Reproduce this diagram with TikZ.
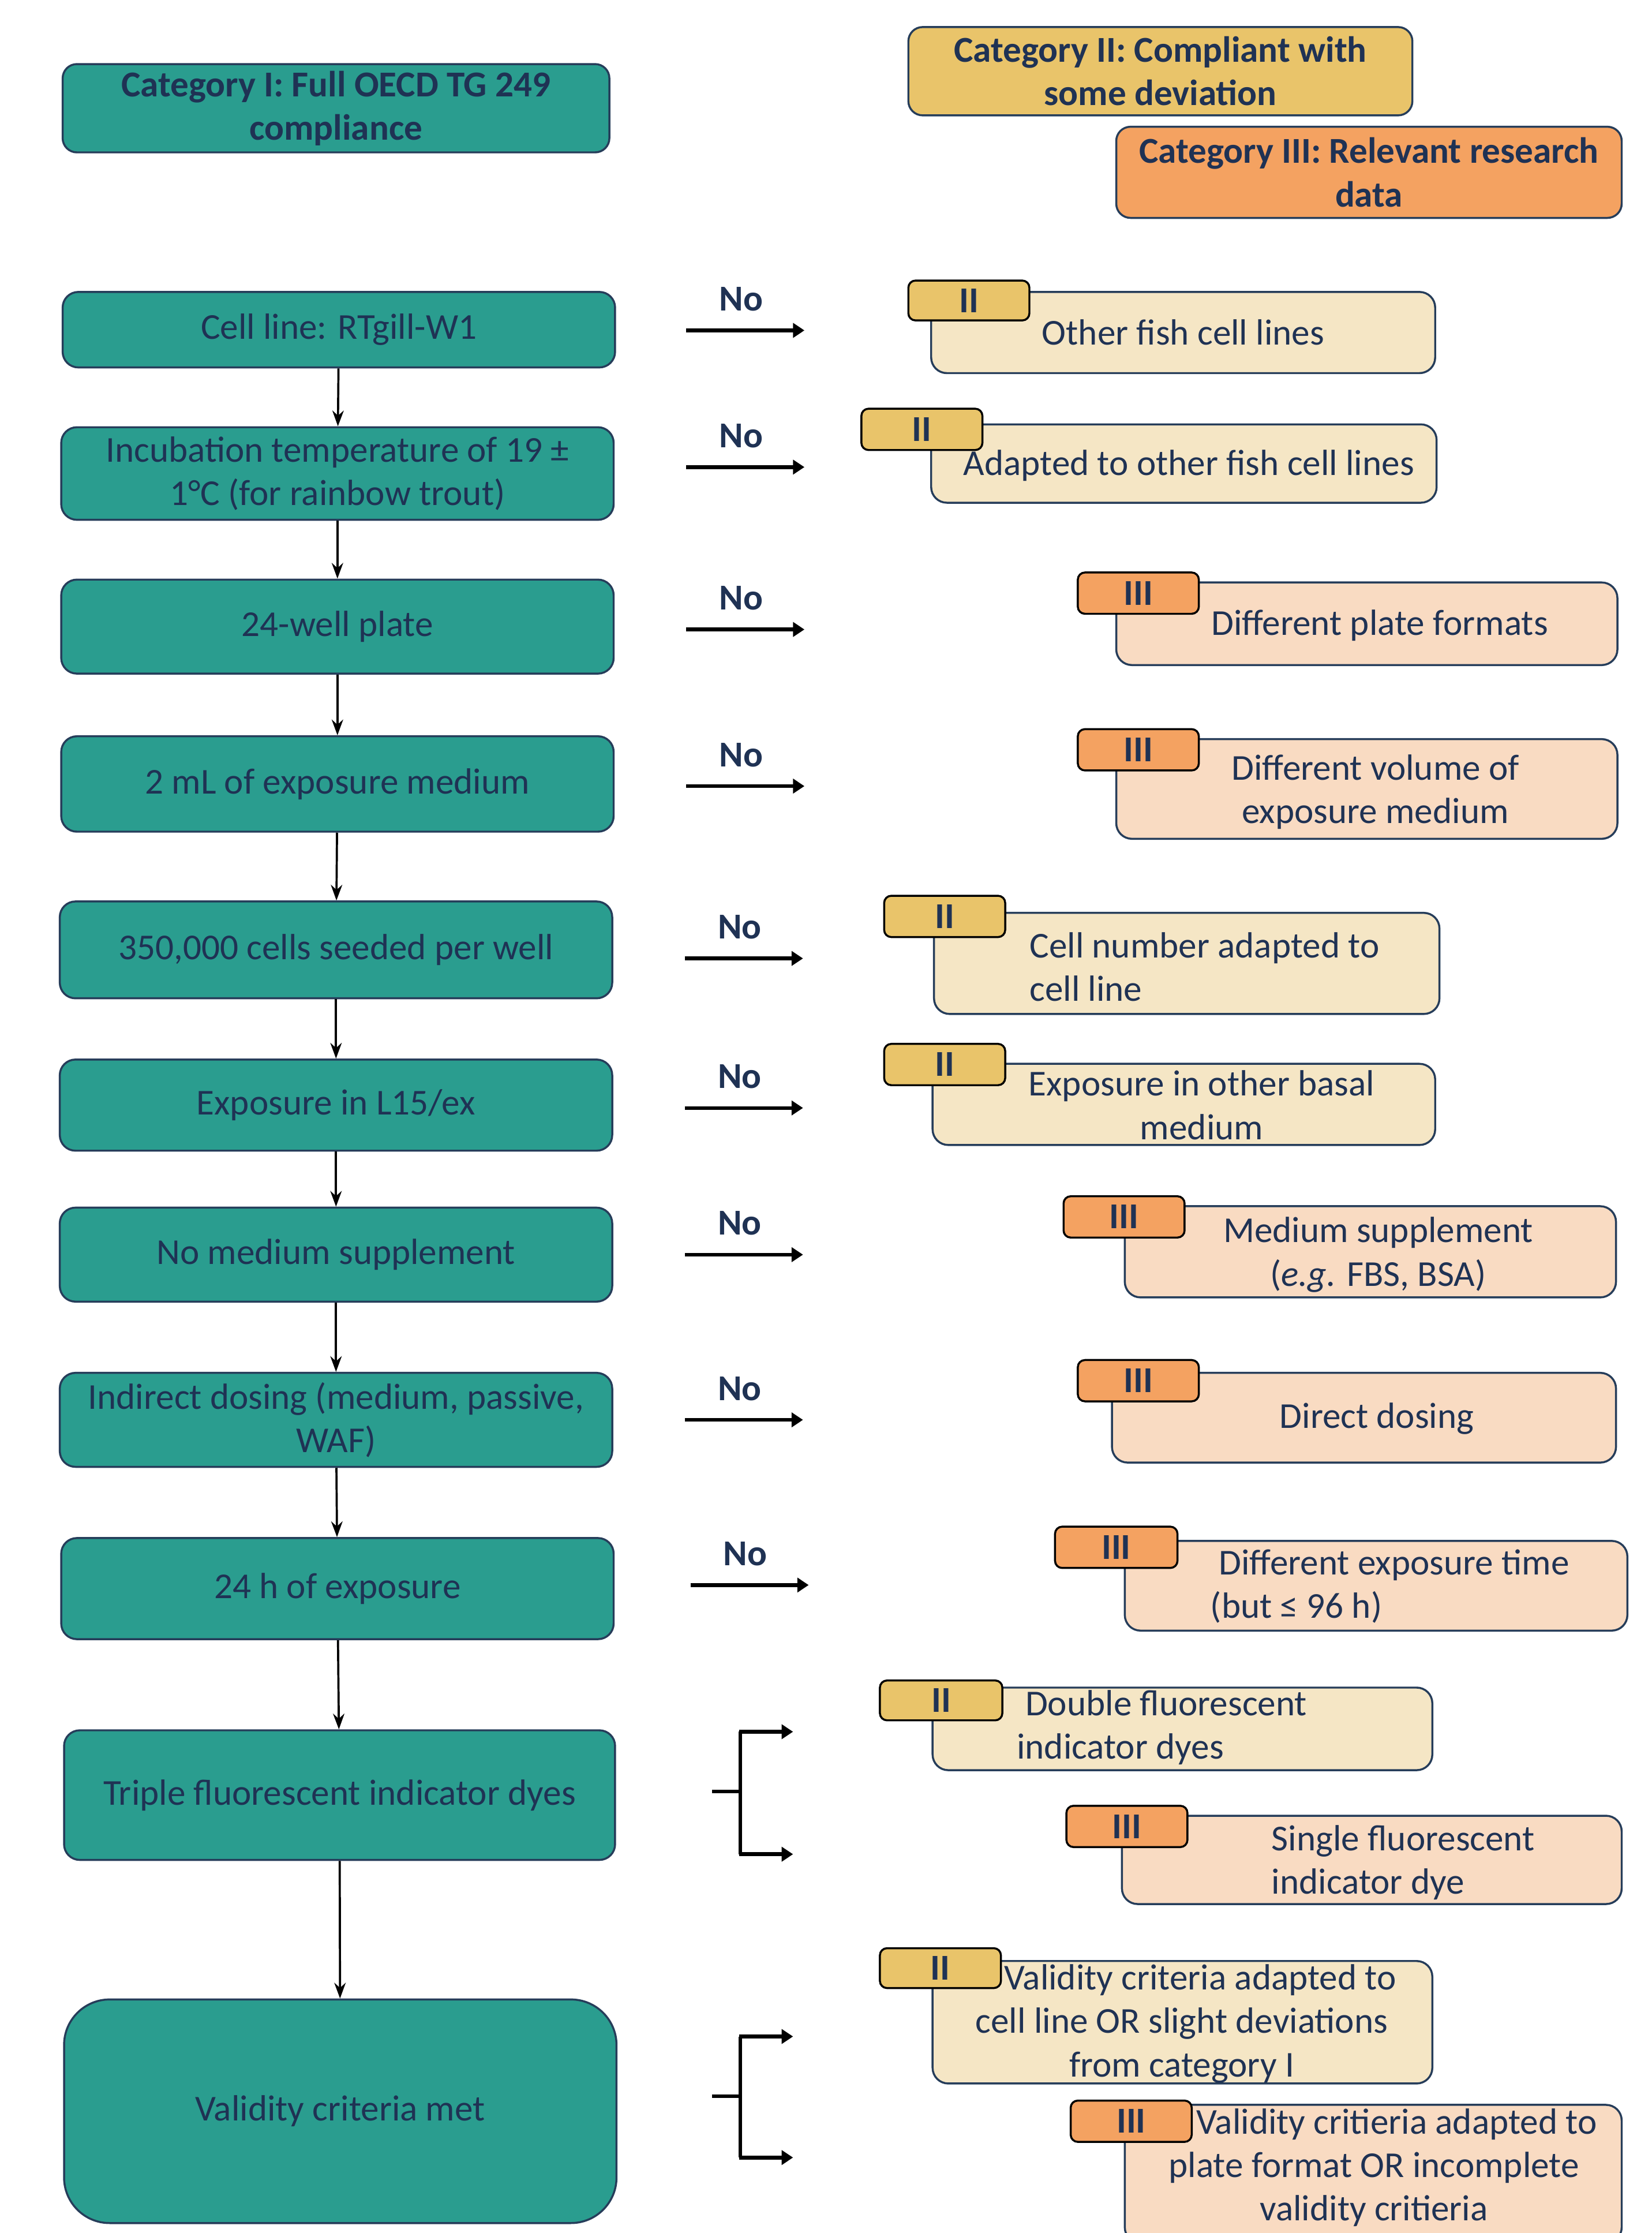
\documentclass[tikz,border=0pt]{standalone}
\usepackage{fontspec}
\setmainfont{Carlito}
\usetikzlibrary{arrows.meta}
\definecolor{tealc}{HTML}{2A9D8F}
\definecolor{yelc}{HTML}{E9C46A}
\definecolor{orac}{HTML}{F4A261}
\definecolor{lyelc}{HTML}{F5E6C5}
\definecolor{lorac}{HTML}{F9DBC2}
\definecolor{navyc}{HTML}{1F3254}
\definecolor{bordc}{HTML}{263D5A}
\newcommand\fs{\fontsize{25.6}{30.5}\selectfont}
\newcommand\mkbox[7]{\node[#6, minimum width={#4-#2}, minimum height={#5-#3}] (#1) at ({(#2+#4)/2},{(#3+#5)/2}) {#7};}
\tikzset{
  base/.style={draw=bordc, line width=1.4pt, text=navyc, align=center, inner sep=0pt, font=\fs},
  head/.style={base, rounded corners=10pt, font=\fs\bfseries},
  leftbox/.style={base, fill=tealc, rounded corners=11pt},
  ybox/.style={base, fill=lyelc, rounded corners=11pt},
  obox/.style={base, fill=lorac, rounded corners=11pt},
  tagY/.style={draw=black, line width=1.4pt, fill=yelc, rounded corners=5pt, text=navyc, inner sep=0pt, font=\fs\bfseries},
  tagO/.style={tagY, fill=orac},
  txt/.style={text=navyc, inner sep=0pt, font=\fs},
  nolab/.style={text=navyc, inner sep=0pt, font=\fs\bfseries},
  downarr/.style={draw=black, line width=1.5pt, -{Stealth[length=11pt,width=8pt]}},
  noarr/.style={draw=black, line width=2.6pt, -{Triangle[length=8pt,width=10pt]}},
  brk/.style={draw=black, line width=2.4pt},
  brkarr/.style={draw=black, line width=3pt, -{Triangle[length=8pt,width=10pt]}}
}
\begin{document}
\begin{tikzpicture}[x=1pt,y=-1pt]
\useasboundingbox (0,0) rectangle (1160,1568);

% headers
\mkbox{h1}{44}{45}{428}{107}{head, fill=tealc}{Category I: Full OECD TG 249\\compliance}
\mkbox{h2}{638}{19}{992}{81}{head, fill=yelc}{Category II: Compliant with\\some deviation}
\mkbox{h3}{784}{89}{1139}{153}{head, fill=orac}{Category III: Relevant research\\data}

% left column
\mkbox{b1}{44}{205}{432}{258}{leftbox}{Cell line: RTgill-W1}
\mkbox{b2}{43}{300}{431}{365}{leftbox}{Incubation temperature of 19 ±\\1°C (for rainbow trout)}
\mkbox{b3}{43}{407}{431}{473}{leftbox}{24-well plate}
\mkbox{b4}{43}{517}{431}{584}{leftbox}{2 mL of exposure medium}
\mkbox{b5}{42}{633}{430}{701}{leftbox}{350,000 cells seeded per well}
\mkbox{b6}{42}{744}{430}{808}{leftbox}{Exposure in L15/ex}
\mkbox{b7}{42}{848}{430}{914}{leftbox}{No medium supplement}
\mkbox{b8}{42}{964}{430}{1030}{leftbox}{Indirect dosing (medium, passive,\\WAF)}
\mkbox{b9}{43}{1080}{431}{1151}{leftbox}{24 h of exposure}
\mkbox{b10}{45}{1215}{432}{1306}{leftbox}{Triple fluorescent indicator dyes}
\mkbox{b11}{45}{1404}{433}{1561}{leftbox, rounded corners=32pt}{Validity criteria met}

\draw[downarr] (b1) -- (b2);
\draw[downarr] (b2) -- (b3);
\draw[downarr] (b3) -- (b4);
\draw[downarr] (b4) -- (b5);
\draw[downarr] (b5) -- (b6);
\draw[downarr] (b6) -- (b7);
\draw[downarr] (b7) -- (b8);
\draw[downarr] (b8) -- (b9);
\draw[downarr] (b9) -- (b10);
\draw[downarr] (b10) -- (b11);

% "No" arrows
\foreach \i/\y/\xa/\xb in {1/232/482/565, 2/328/482/565, 3/442/482/565, 4/552/482/565, 5/673/481/564, 6/778/481/564, 7/881/481/564, 8/997/481/564, 9/1113/485/568}{
  \coordinate (ns\i) at (\xa,\y);
  \coordinate (ne\i) at (\xb,\y);
  \draw[noarr] (ns\i) -- (ne\i);
  \node[nolab] (no\i) at ({(\xa+\xb)/2-3},{\y-22}) {No};
}

% right boxes
\mkbox{r1}{654}{205}{1008}{262}{ybox}{Other fish cell lines}
\mkbox{t1}{638}{197}{723}{225}{tagY}{II}

\mkbox{r2}{654}{298}{1009}{353}{ybox}{}
\mkbox{t2}{605}{287}{690}{316}{tagY}{II}
\node[txt] (r2t) at (835,327) {Adapted to other fish cell lines};

\mkbox{r3}{784}{409}{1136}{467}{obox}{}
\node[txt] (r3t) at (969,439) {Different plate formats};
\mkbox{t3}{757}{402}{842}{431}{tagO}{III}

\mkbox{r4}{784}{519}{1136}{589}{obox}{}
\node[txt, align=center] (r4t) at (966,556) {Different volume of\\exposure medium};
\mkbox{t4}{757}{512}{842}{541}{tagO}{III}

\mkbox{r5}{656}{641}{1011}{712}{ybox}{}
\node[txt, align=left, anchor=west] (r5t) at (723,679) {Cell number adapted to\\cell line};
\mkbox{t5}{621}{629}{706}{658}{tagY}{II}

\mkbox{r6}{655}{747}{1008}{804}{ybox}{}
\node[txt, align=center] (r6t) at (844,776) {Exposure in other basal\\medium};
\mkbox{t6}{621}{733}{706}{762}{tagY}{II}

\mkbox{r7}{790}{847}{1135}{911}{obox}{}
\node[txt, align=center] (r7t) at (968,881) {Medium supplement\\(\textit{e.g.} FBS, BSA)};
\mkbox{t7}{747}{840}{832}{869}{tagO}{III}

\mkbox{r8}{781}{964}{1135}{1027}{obox}{}
\node[txt] (r8t) at (967,996) {Direct dosing};
\mkbox{t8}{757}{955}{842}{984}{tagO}{III}

\mkbox{r9}{790}{1082}{1143}{1145}{obox}{}
\node[txt, align=left, anchor=west] (r9t) at (850,1114) {\hspace*{6pt}Different exposure time\\(but ≤ 96 h)};
\mkbox{t9}{741}{1072}{827}{1101}{tagO}{III}

\mkbox{r10}{655}{1185}{1006}{1243}{ybox}{}
\node[txt, align=left, anchor=west] (r10t) at (714,1213) {\hspace*{6pt}Double fluorescent\\indicator dyes};
\mkbox{t10}{618}{1180}{704}{1208}{tagY}{II}

\mkbox{r11}{788}{1275}{1139}{1337}{obox}{}
\node[txt, align=left, anchor=west] (r11t) at (893,1308) {Single fluorescent\\indicator dye};
\mkbox{t11}{749}{1268}{834}{1297}{tagO}{III}

\mkbox{r12}{655}{1377}{1006}{1463}{ybox}{}
\mkbox{t12}{618}{1368}{703}{1396}{tagY}{II}
\node[txt, align=center] (r12t) at (830,1421) {\hspace*{26pt}Validity criteria adapted to\\cell line OR slight deviations\\from category I};

\mkbox{r13}{790}{1478}{1139}{1575}{obox}{}
\mkbox{t13}{752}{1475}{837}{1504}{tagO}{III}
\node[txt, align=center] (r13t) at (965,1522) {\hspace*{32pt}Validity critieria adapted to\\plate format OR incomplete\\validity critieria};

% bracket arrows
\coordinate (ba0) at (500,1258);
\coordinate (ba1) at (520,1258);
\coordinate (ba2) at (520,1216);
\coordinate (ba3) at (520,1302);
\coordinate (ba4) at (557,1216);
\coordinate (ba5) at (557,1302);
\draw[brk] (ba0) -- (ba1);
\draw[brk] (ba2) -- (ba3);
\draw[brkarr] ([xshift=-1pt]ba2) -- (ba4);
\draw[brkarr] ([xshift=-1pt]ba3) -- (ba5);

\coordinate (bb0) at (500,1472);
\coordinate (bb1) at (520,1472);
\coordinate (bb2) at (520,1430);
\coordinate (bb3) at (520,1515);
\coordinate (bb4) at (557,1430);
\coordinate (bb5) at (557,1515);
\draw[brk] (bb0) -- (bb1);
\draw[brk] (bb2) -- (bb3);
\draw[brkarr] ([xshift=-1pt]bb2) -- (bb4);
\draw[brkarr] ([xshift=-1pt]bb3) -- (bb5);
\end{tikzpicture}
\end{document}
